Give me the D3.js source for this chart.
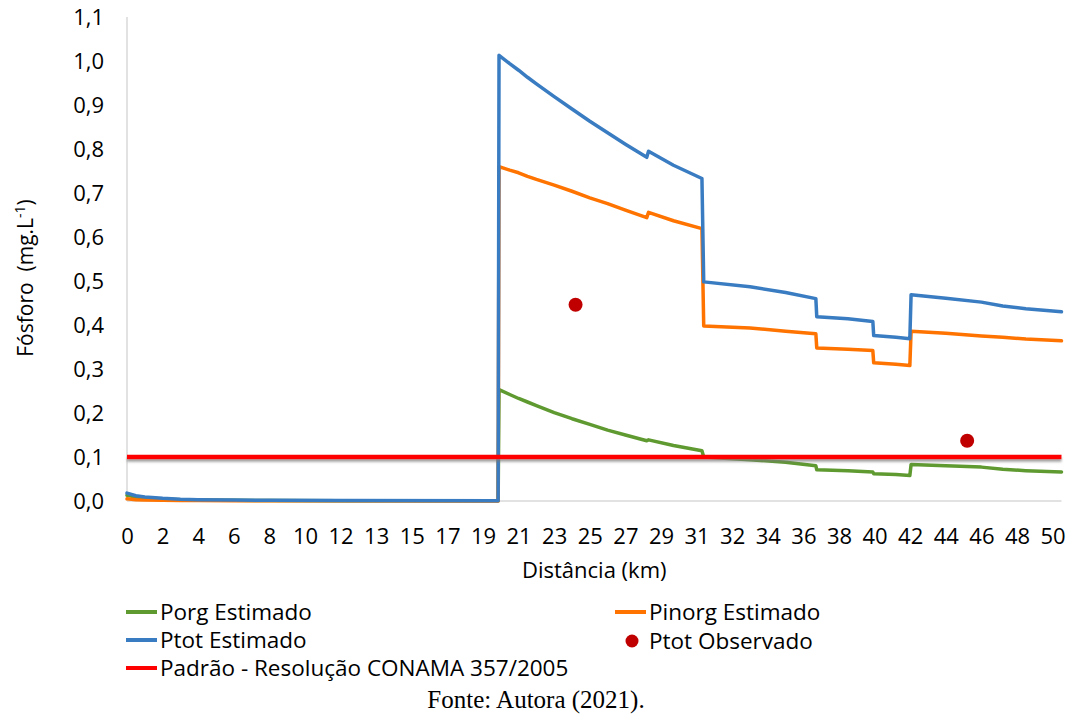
<!DOCTYPE html>
<html><head><meta charset="utf-8">
<script src="https://cdn.jsdelivr.net/npm/d3@7"></script>
<style>
body{margin:0;background:#fff;}
svg{display:block;}
text{font-family:"Open Sans",sans-serif;fill:#000;}
</style></head>
<body>
<svg id="chart" width="1073" height="715"></svg>
<script>
// ---- data ----
const tickLabels = [0,2,4,6,8,10,12,13,15,17,19,21,23,25,27,29,31,32,34,36,38,40,42,44,46,48,50];
const yTicks = [0,0.1,0.2,0.3,0.4,0.5,0.6,0.7,0.8,0.9,1.0,1.1];
const distancia = [0,0.5,1,2,3,4,6,8,12,19.85,19.9,20.5,21,21.5,22,23,24,25,26,27,28.2,28.3,29.7,31.15,31.2,33,35,36.7,36.75,38.5,39.9,39.95,41.2,41.98,42.05,44,46,47.2,48.5,50.5];
const ptot   = [0.018,0.012,0.009,0.006,0.004,0.003,0.002,0.0015,0.001,0.0005,1.013,0.994,0.979,0.963,0.948,0.919,0.891,0.863,0.837,0.811,0.781,0.795,0.763,0.733,0.498,0.487,0.474,0.460,0.419,0.414,0.408,0.376,0.372,0.369,0.469,0.461,0.452,0.443,0.437,0.430];
const pinorg = [0.005,0.003,0.002,0.0015,0.001,0.001,0.0005,0.0005,0.0003,0.0002,0.760,0.752,0.746,0.738,0.731,0.718,0.704,0.689,0.676,0.661,0.644,0.656,0.637,0.619,0.398,0.393,0.386,0.380,0.348,0.345,0.342,0.314,0.311,0.308,0.386,0.381,0.375,0.372,0.368,0.364];
const porg   = [0.013,0.009,0.007,0.0045,0.003,0.002,0.0015,0.001,0.0007,0.0003,0.253,0.242,0.233,0.225,0.217,0.201,0.187,0.174,0.161,0.150,0.137,0.139,0.126,0.114,0.100,0.094,0.088,0.080,0.071,0.069,0.066,0.062,0.060,0.058,0.083,0.080,0.077,0.072,0.069,0.066];
const obsDist = [24.2,45.2];
const obsPtot = [0.446,0.137];
const padraoDist = [0,50.5];
const padraoValor = [0.1,0.1];
const seriesNames = ["Porg Estimado","Pinorg Estimado","Ptot Estimado","Ptot Observado","Padrão - Resolução CONAMA 357/2005"];

// ---- layout ----
const svg = d3.select("#chart");
const left = 127, step = 35.6, y0 = 501, y1 = 17;
const x = d3.scaleLinear().domain(tickLabels).range(tickLabels.map((d,i)=>left+i*step));
const y = d3.scaleLinear().domain([0,1.1]).range([y0,y1]);
const xEnd = x(50.5);

const defs = svg.append("defs");
const f = defs.append("filter").attr("id","shadow").attr("filterUnits","userSpaceOnUse")
  .attr("x",0).attr("y",0).attr("width",1073).attr("height",715);
f.append("feDropShadow").attr("dx",0).attr("dy",2.5).attr("stdDeviation",1.2).attr("flood-color","#777").attr("flood-opacity",0.7);

// axes lines
svg.append("line").attr("x1",left).attr("x2",left).attr("y1",y(1.1)).attr("y2",y0).attr("stroke","#d9d9d9").attr("stroke-width",1.5);
svg.append("line").attr("x1",left).attr("x2",xEnd).attr("y1",y0).attr("y2",y0).attr("stroke","#d9d9d9").attr("stroke-width",1.5);

const yAxis = svg.append("g").attr("transform",`translate(${left-23},0)`)
  .call(d3.axisLeft(y).tickValues(yTicks).tickSize(0).tickPadding(0).tickFormat(d=>d3.format(".1f")(d).replace(".",",")));
yAxis.select(".domain").remove();
yAxis.selectAll("text").style("font-size","22px").style("font-family","'Open Sans',sans-serif").attr("fill","#000");

const xAxis = svg.append("g").attr("transform",`translate(0,${y0})`)
  .call(d3.axisBottom(x).tickValues(tickLabels).tickSize(0).tickPadding(0).tickFormat(d=>d));
xAxis.select(".domain").remove();
xAxis.selectAll("text").attr("dy",null).attr("y",43).style("font-size","22px").style("font-family","'Open Sans',sans-serif").attr("fill","#000");

// titles
svg.append("text").attr("x",(left+xEnd)/2).attr("y",578).attr("text-anchor","middle").style("font-size","22px").text("Distância (km)");
const yt = svg.append("text").attr("transform","translate(33,278) rotate(-90)").attr("text-anchor","middle").style("font-size","21px");
yt.append("tspan").text("Fósforo\u00a0\u00a0(mg.L");
yt.append("tspan").attr("dy",-8).style("font-size","14px").text("-1");
yt.append("tspan").attr("dy",8).text(")");

// series
const line = d3.line().x(d=>x(d[0])).y(d=>y(d[1]));
const colors = ["#5f9a31","#ff7300","#3a7cc1","#c00000","#ff0000"];
[porg,pinorg,ptot].forEach((vals,i)=>{
  svg.append("path").datum(distancia.map((d,k)=>[d,vals[k]]))
    .attr("d",line).attr("fill","none").attr("stroke",colors[i]).attr("stroke-width",3.5)
    .attr("stroke-linejoin","round").attr("stroke-linecap","round");
});
svg.selectAll("circle.obs").data(obsDist.map((d,k)=>[d,obsPtot[k]])).enter().append("circle")
  .attr("class","obs").attr("cx",d=>x(d[0])).attr("cy",d=>y(d[1])).attr("r",7).attr("fill",colors[3]);
svg.append("path").datum(padraoDist.map((d,k)=>[d,padraoValor[k]])).attr("d",line)
  .attr("fill","none").attr("stroke",colors[4]).attr("stroke-width",4.5).attr("filter","url(#shadow)");

// legend
const legendPos = [[126,612],[615,612],[126,640],[615,641],[126,668]];
seriesNames.forEach((name,i)=>{
  const [lx,ly] = legendPos[i];
  if(i===3){
    svg.append("circle").attr("cx",lx+17).attr("cy",ly).attr("r",6.5).attr("fill",colors[i]);
  } else {
    svg.append("line").attr("x1",lx).attr("x2",lx+31).attr("y1",ly).attr("y2",ly).attr("stroke",colors[i]).attr("stroke-width",4);
  }
  svg.append("text").attr("x",lx+34).attr("y",ly+8).style("font-size","22.5px").text(name);
});

svg.append("text").attr("x",536).attr("y",708).attr("text-anchor","middle")
  .style("font-family","'Liberation Serif',serif").style("font-size","25px").text("Fonte: Autora (2021).");
</script>
</body></html>
